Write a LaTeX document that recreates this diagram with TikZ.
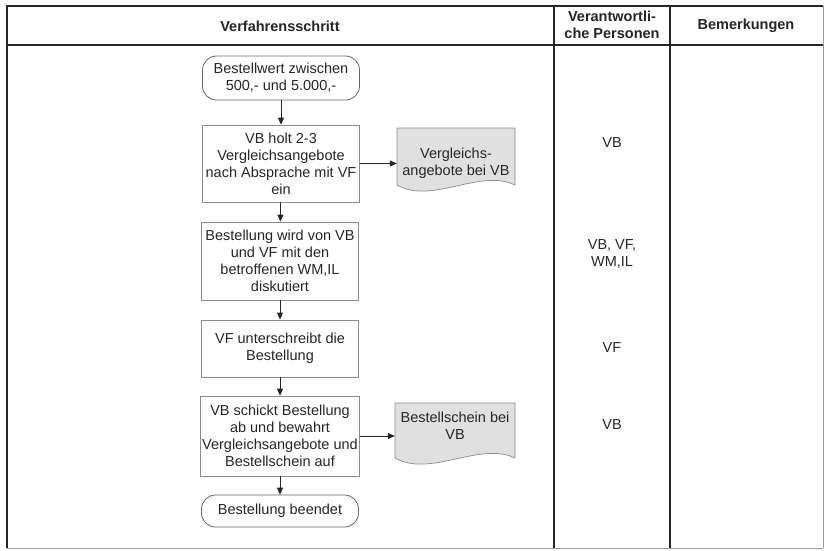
\documentclass[tikz,border=0pt]{standalone}
\usepackage{fontspec}
\setmainfont{Liberation Sans}
\usetikzlibrary{arrows.meta}
\begin{document}
\begin{tikzpicture}[x=1pt,y=-1pt,
  every node/.style={font=\fontsize{14.5}{17}\selectfont, text=black!85},
  hdr/.style={font=\fontsize{14.5}{17}\selectfont\bfseries, align=center, inner sep=0pt},
  resp/.style={align=center, inner sep=0pt},
  stepbox/.style={draw=black!45, line width=0.7pt, align=center, minimum width=157pt, inner sep=2pt},
  term/.style={draw=black!60, line width=0.8pt, rounded corners=14pt, align=center, minimum width=157pt, inner sep=2pt},
  doctext/.style={align=center, minimum width=118pt, inner sep=0pt},
  docshape/.style={draw=black!45, line width=0.7pt, fill=black!12},
  flow/.style={draw=black!85, line width=0.8pt, -{Triangle[length=7pt,width=6pt]}},
  tline/.style={draw=black!85, line width=1.4pt},
  fline/.style={draw=black!40, line width=1pt}
]
\useasboundingbox (0,0) rectangle (825,550);
\fill[white] (0,0) rectangle (825,550);

% table
\draw[fline] (7,548) -- (823,548);
\draw[fline] (823,6) -- (823,548);
\draw[tline] (7,548) -- (7,6) -- (823,6);
\draw[tline] (7,45) -- (823,45);
\draw[tline] (554,6) -- (554,548);
\draw[tline] (670,6) -- (670,548);

\node[hdr] (h1) at (280,26) {Verfahrensschritt};
\node[hdr] (h2) at (612,25) {Verantwortli-\\che Personen};
\node[hdr] (h3) at (746,26) {Bemerkungen};

% flow steps
\node[term, minimum height=44pt] (start) at (281,78) {Bestellwert zwischen\\500,- und 5.000,-};
\node[stepbox, minimum height=77pt] (s1) at (281,163.5) {VB holt 2-3\\Vergleichsangebote\\nach Absprache mit VF\\ein};
\node[stepbox, minimum height=78pt] (s2) at (280,261) {Bestellung wird von VB\\und VF mit den\\betroffenen WM,IL\\diskutiert};
\node[stepbox, minimum height=57pt] (s3) at (280,348.5) {VF unterschreibt die\\Bestellung};
\node[stepbox, minimum height=80pt] (s4) at (280,436) {VB schickt Bestellung\\ab und bewahrt\\Vergleichsangebote und\\Bestellschein auf};
\node[term, minimum height=32pt] (end) at (280,511) {Bestellung beendet};

% documents
\draw[docshape] (397,185) -- (397,128) -- (515,128) -- (515,185)
  .. controls (480,168) and (432,205) .. (397,185) -- cycle;
\node[doctext] (d1) at (456,163) {Vergleichs-\\angebote bei VB};
\draw[docshape] (395,458) -- (395,403) -- (515,403) -- (515,458)
  .. controls (480,441) and (430,478) .. (395,458) -- cycle;
\node[doctext, minimum width=120pt] (d2) at (455,425.5) {Bestellschein bei\\VB};

% connectors
\draw[flow] (start) -- (s1);
\draw[flow] (s1) -- (s2);
\draw[flow] (s2) -- (s3);
\draw[flow] (s3) -- (s4);
\draw[flow] (s4) -- (end);
\draw[flow] (s1.east) -- (s1.east -| d1.west);
\draw[flow] (s4.east) -- (s4.east -| d2.west);

% responsible persons
\node[resp] (r1) at (612,143) {VB};
\node[resp] (r2) at (612,254) {VB, VF,\\WM,IL};
\node[resp] (r3) at (612,348) {VF};
\node[resp] (r4) at (612,425) {VB};
\end{tikzpicture}
\end{document}
